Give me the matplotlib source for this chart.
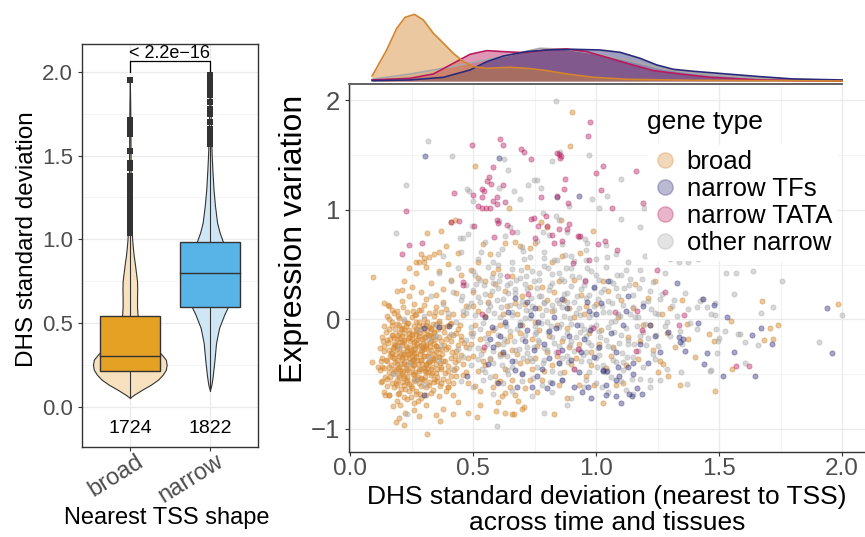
import numpy as np
import matplotlib
matplotlib.use('Agg')
import matplotlib.pyplot as plt
from matplotlib.lines import Line2D
from matplotlib.patches import Rectangle

plt.rcParams['font.family'] = ['Liberation Sans', 'DejaVu Sans']

# ---------------- left panel data ----------------
shapes = ['broad', 'narrow']
counts = [1724, 1822]
box_q1 = [0.215, 0.594]
box_med = [0.300, 0.797]
box_q3 = [0.543, 0.983]
whisk_lo = [0.052, 0.096]
whisk_hi = [1.035, 1.567]
pval_text = '< 2.2e\u221216'

broad_vy = [0.052, 0.07, 0.10, 0.13, 0.16, 0.19, 0.22, 0.25, 0.28, 0.31, 0.35, 0.40, 0.45,
            0.50, 0.55, 0.60, 0.65, 0.70, 0.75, 0.80, 0.85, 0.90, 0.95, 1.00, 1.10, 1.20,
            1.40, 1.60, 1.80, 1.96]
broad_vw = [0.0, 0.05, 0.15, 0.26, 0.35, 0.41, 0.45, 0.46, 0.45, 0.40, 0.32, 0.23, 0.15,
            0.115, 0.096, 0.09, 0.09, 0.092, 0.09, 0.077, 0.064, 0.049, 0.038, 0.029, 0.021,
            0.015, 0.010, 0.008, 0.005, 0.0]
narrow_vy = [0.096, 0.13, 0.18, 0.28, 0.38, 0.47, 0.55, 0.60, 0.70, 0.80, 0.90, 0.98, 1.04,
             1.10, 1.20, 1.30, 1.41, 1.50, 1.61, 1.82, 1.98]
narrow_vw = [0.0, 0.019, 0.035, 0.058, 0.077, 0.115, 0.18, 0.23, 0.28, 0.295, 0.24, 0.167,
             0.122, 0.09, 0.064, 0.045, 0.032, 0.023, 0.015, 0.008, 0.0]

broad_out = [1.951, 1.714, 1.693, 1.663, 1.632, 1.53, 1.458, 1.427, 1.376, 1.345, 1.314,
             1.284, 1.253, 1.222, 1.192, 1.161, 1.13, 1.10, 1.069, 1.04]
narrow_out = [1.98, 1.95, 1.92, 1.89, 1.86, 1.82, 1.78, 1.75, 1.70, 1.66, 1.63, 1.60, 1.57]

# ---------------- marginal densities (relative height) ----------------
dens_x_broad = [0.09, 0.149, 0.19, 0.224, 0.262, 0.298, 0.339, 0.38, 0.42, 0.461, 0.502,
                0.556, 0.65, 0.718, 0.80, 0.881, 0.989, 1.125, 1.396, 2.0]
dens_h_broad = [15, 93, 158, 191, 200, 183, 143, 113, 83, 58, 43, 38, 41, 38, 31, 21, 11, 5, 2, 0]
dens_x_tf = [0.09, 0.244, 0.38, 0.488, 0.556, 0.624, 0.718, 0.80, 0.908, 1.016, 1.098, 1.179,
             1.247, 1.314, 1.396, 1.531, 1.667, 1.802, 2.0]
dens_h_tf = [1, 3, 11, 33, 58, 75, 88, 93, 95, 93, 86, 68, 48, 35, 29, 21, 13, 6, 3]
dens_x_tata = [0.09, 0.244, 0.339, 0.42, 0.488, 0.556, 0.624, 0.705, 0.80, 0.881, 0.962,
               1.043, 1.125, 1.233, 1.342, 1.464, 1.667, 2.0]
dens_h_tata = [3, 8, 21, 53, 80, 91, 88, 85, 93, 96, 88, 71, 53, 31, 21, 11, 3, 0]
dens_x_other = [0.09, 0.244, 0.38, 0.515, 0.65, 0.772, 0.881, 0.989, 1.125, 1.26, 1.396,
                1.599, 1.802, 2.0]
dens_h_other = [5, 21, 38, 58, 78, 98, 95, 83, 63, 38, 23, 11, 5, 2]

# ---------------- scatter points (DHS sd, expression variation) ----------------
broad_pts = [
    (0.16, 0.12), (0.21, 0.17), (0.26, 0.14), (0.31, 0.19), (0.35, 0.11), (0.19, 0.08), (0.29, 0.09),
    (0.24, 0.21), (0.38, 0.16), (0.14, 0.15), (0.15, 0.03), (0.18, 0.06), (0.20, 0.01), (0.23, 0.07),
    (0.25, 0.02), (0.27, 0.05), (0.30, 0.00), (0.32, 0.06), (0.34, 0.03), (0.37, 0.07), (0.40, 0.02),
    (0.22, -0.01), (0.28, 0.09), (0.17, -0.02), (0.36, -0.01), (0.42, 0.05), (0.14, -0.06), (0.16, -0.09),
    (0.19, -0.04), (0.21, -0.08), (0.23, -0.03), (0.24, -0.10), (0.26, -0.06), (0.28, -0.02), (0.29, -0.09),
    (0.31, -0.05), (0.33, -0.08), (0.35, -0.04), (0.38, -0.07), (0.41, -0.03), (0.44, -0.09), (0.20, -0.12),
    (0.27, -0.13), (0.34, -0.12), (0.13, -0.16), (0.15, -0.19), (0.17, -0.14), (0.19, -0.18), (0.21, -0.15),
    (0.22, -0.20), (0.24, -0.16), (0.25, -0.13), (0.27, -0.19), (0.28, -0.15), (0.30, -0.17), (0.32, -0.14),
    (0.33, -0.20), (0.36, -0.16), (0.39, -0.18), (0.42, -0.14), (0.45, -0.19), (0.18, -0.22), (0.26, -0.23),
    (0.31, -0.22), (0.12, -0.26), (0.14, -0.24), (0.16, -0.28), (0.18, -0.25), (0.20, -0.27), (0.21, -0.23),
    (0.23, -0.29), (0.24, -0.25), (0.26, -0.27), (0.28, -0.24), (0.29, -0.29), (0.31, -0.26), (0.33, -0.28),
    (0.35, -0.24), (0.37, -0.27), (0.40, -0.25), (0.43, -0.29), (0.17, -0.31), (0.22, -0.32), (0.27, -0.31),
    (0.34, -0.32), (0.13, -0.35), (0.15, -0.38), (0.17, -0.34), (0.19, -0.37), (0.20, -0.33), (0.22, -0.39),
    (0.24, -0.35), (0.25, -0.38), (0.27, -0.34), (0.29, -0.37), (0.30, -0.33), (0.32, -0.39), (0.34, -0.36),
    (0.36, -0.34), (0.38, -0.38), (0.41, -0.35), (0.44, -0.37), (0.19, -0.41), (0.26, -0.42), (0.31, -0.41),
    (0.12, -0.46), (0.14, -0.44), (0.16, -0.48), (0.18, -0.45), (0.20, -0.43), (0.21, -0.49), (0.23, -0.46),
    (0.25, -0.44), (0.26, -0.50), (0.28, -0.47), (0.30, -0.44), (0.31, -0.48), (0.33, -0.45), (0.35, -0.49),
    (0.37, -0.43), (0.40, -0.47), (0.43, -0.44), (0.22, -0.52), (0.29, -0.53), (0.13, -0.56), (0.15, -0.54),
    (0.17, -0.58), (0.19, -0.55), (0.21, -0.57), (0.23, -0.55), (0.24, -0.59), (0.26, -0.56), (0.28, -0.58),
    (0.30, -0.55), (0.32, -0.57), (0.34, -0.54), (0.37, -0.58), (0.40, -0.56), (0.18, -0.62), (0.25, -0.63),
    (0.31, -0.62), (0.14, -0.66), (0.16, -0.69), (0.20, -0.67), (0.22, -0.71), (0.24, -0.65), (0.27, -0.68),
    (0.29, -0.72), (0.33, -0.67), (0.36, -0.70), (0.39, -0.65), (0.19, -0.74), (0.26, -0.76), (0.31, -0.78),
    (0.42, -0.69), (0.21, -0.21), (0.23, -0.42), (0.27, -0.09), (0.18, -0.35), (0.29, -0.45), (0.25, -0.30),
    (0.20, -0.05), (0.32, -0.31), (0.22, -0.60), (0.16, 0.00), (0.26, -0.36), (0.30, -0.12),
    # second pass over the dense blob
    (0.155, -0.215), (0.172, -0.052), (0.188, -0.318), (0.205, -0.462), (0.218, -0.128), (0.232, -0.574),
    (0.247, -0.281), (0.263, 0.043), (0.276, -0.407), (0.291, -0.183), (0.305, -0.521), (0.322, -0.067),
    (0.338, -0.356), (0.351, -0.238), (0.367, -0.612), (0.384, -0.115), (0.397, -0.429), (0.412, -0.198),
    (0.428, -0.334), (0.145, -0.372), (0.163, -0.521), (0.178, -0.168), (0.194, 0.027), (0.211, -0.346),
    (0.226, -0.238), (0.239, -0.482), (0.254, -0.139), (0.268, -0.655), (0.284, -0.317), (0.298, -0.052),
    (0.313, -0.443), (0.327, -0.209), (0.343, -0.567), (0.358, -0.091), (0.372, -0.318), (0.388, -0.492),
    (0.403, -0.147), (0.419, -0.583), (0.138, -0.291), (0.151, -0.612), (0.167, -0.418), (0.183, -0.087),
    (0.199, -0.527), (0.214, -0.296), (0.229, -0.061), (0.244, -0.389), (0.259, -0.542), (0.273, -0.226),
    (0.288, -0.611), (0.302, -0.331), (0.318, -0.143), (0.333, -0.488), (0.348, -0.406), (0.362, -0.033),
    (0.377, -0.541), (0.392, -0.271), (0.408, -0.043), (0.423, -0.462), (0.437, -0.231), (0.147, -0.112),
    (0.161, -0.331), (0.176, -0.487), (0.192, -0.229), (0.207, -0.631), (0.221, -0.407), (0.236, -0.172),
    (0.251, -0.334), (0.266, -0.478), (0.281, -0.063), (0.295, -0.254), (0.309, -0.688), (0.325, -0.382),
    (0.339, -0.158), (0.355, -0.452), (0.369, -0.196), (0.385, -0.381), (0.399, -0.621), (0.414, -0.296),
    (0.432, -0.128), (0.141, -0.525), (0.158, -0.438), (0.174, -0.262), (0.190, -0.598), (0.203, -0.165),
    (0.219, -0.532), (0.234, -0.312), (0.249, -0.711), (0.262, -0.203), (0.278, -0.523), (0.292, -0.408),
    (0.307, -0.239), (0.321, -0.598), (0.336, -0.041), (0.352, -0.528), (0.366, -0.402), (0.381, -0.231),
    (0.396, -0.062), (0.411, -0.512), (0.426, -0.388), (0.170, 0.090), (0.215, 0.112), (0.258, 0.081),
    (0.302, 0.128), (0.345, 0.064), (0.390, 0.095), (0.232, -0.723), (0.275, -0.742), (0.196, -0.682),
    (0.339, -0.642), (0.128, -0.382), (0.135, -0.198), (0.452, -0.322), (0.448, -0.052), (0.458, -0.507),
    (0.463, -0.213),
    # third pass over the core
    (0.176, -0.143), (0.183, -0.392), (0.191, -0.271), (0.198, -0.508), (0.206, -0.087), (0.213, -0.358),
    (0.221, -0.191), (0.228, -0.447), (0.236, -0.032), (0.243, -0.302), (0.251, -0.176), (0.258, -0.415),
    (0.266, -0.259), (0.273, -0.541), (0.281, -0.128), (0.288, -0.372), (0.296, -0.214), (0.303, -0.468),
    (0.311, -0.093), (0.318, -0.331), (0.326, -0.252), (0.333, -0.433), (0.341, -0.117), (0.348, -0.297),
    (0.184, -0.232), (0.195, -0.452), (0.207, -0.318), (0.219, -0.084), (0.231, -0.527), (0.242, -0.201),
    (0.255, -0.367), (0.267, -0.104), (0.279, -0.452), (0.291, -0.282), (0.304, -0.163), (0.316, -0.392),
    (0.328, -0.511), (0.340, -0.226), (0.186, -0.577), (0.201, -0.203), (0.216, -0.472), (0.232, -0.265),
    (0.247, -0.612), (0.262, -0.318), (0.277, -0.182), (0.293, -0.546), (0.308, -0.412), (0.324, -0.148),
    (0.339, -0.371), (0.354, -0.562), (0.168, -0.308), (0.181, -0.472), (0.225, -0.637), (0.269, -0.022),
    (0.286, -0.681), (0.312, -0.021), (0.357, -0.271), (0.371, -0.452), (0.161, -0.178), (0.209, -0.405),
    (0.239, -0.127), (0.271, -0.372), (0.301, -0.271), (0.331, -0.087), (0.361, -0.343), (0.197, -0.146),
    (0.227, -0.342), (0.257, -0.501), (0.287, -0.232), (0.317, -0.481), (0.347, -0.183),
    # edges of the blob
    (0.09, -0.385), (0.092, 0.39), (0.187, -0.94), (0.221, -0.96), (0.314, -1.05), (0.224, -0.85),
    (0.203, -0.78), (0.173, -0.79), (0.142, -0.69), (0.16, -0.69), (0.125, -0.57), (0.115, -0.43),
    (0.132, -0.43), (0.156, 0.13), (0.19, 0.26), (0.20, -0.90), (0.35, -0.87), (0.28, -0.88),
    (0.38, -0.82), (0.26, -0.83), (0.366, -0.93), (0.42, -0.86),
    # above the blob
    (0.22, 0.35), (0.25, 0.30), (0.27, 0.42), (0.29, 0.25), (0.31, 0.48), (0.33, 0.33), (0.35, 0.22),
    (0.36, 0.44), (0.38, 0.28), (0.40, 0.51), (0.41, 0.36), (0.43, 0.24), (0.45, 0.41), (0.24, 0.47),
    (0.21, 0.27), (0.30, 0.56), (0.34, 0.60), (0.44, 0.61), (0.39, 0.67), (0.28, 0.52), (0.313, 0.785),
    (0.369, 0.81), (0.29, 0.60), (0.30, 0.525), (0.27, 0.52), (0.321, 0.57), (0.363, 0.615), (0.427, 0.91),
    (0.41, 0.89), (0.541, 0.69), (0.631, 0.70), (0.733, 0.65), (0.75, 0.70), (0.776, 0.89), (0.858, 0.91),
    (0.986, 0.807), (0.936, 0.61), (0.86, 0.58), (0.80, 0.84), (0.67, 0.71), (0.69, 0.67), (0.645, 1.02),
    (0.507, 1.40), (0.901, 1.89), (0.893, 1.58),
    # spread towards narrow region
    (0.40, -0.62), (0.43, -0.52), (0.46, -0.41), (0.48, -0.58), (0.47, -0.25), (0.49, -0.12), (0.46, 0.04),
    (0.50, -0.33), (0.52, -0.47), (0.53, -0.18), (0.55, 0.03), (0.57, -0.36), (0.58, -0.62), (0.60, -0.22),
    (0.61, -0.05), (0.63, -0.45), (0.64, 0.12), (0.66, -0.28), (0.67, -0.69), (0.69, -0.12), (0.70, 0.21),
    (0.72, -0.38), (0.73, -0.55), (0.75, -0.02), (0.76, -0.24), (0.78, 0.30), (0.79, -0.47), (0.81, -0.15),
    (0.82, 0.08), (0.84, -0.33), (0.85, -0.60), (0.87, 0.18), (0.88, -0.08), (0.90, -0.41), (0.91, 0.36),
    (0.93, -0.22), (0.95, 0.05), (0.96, -0.52), (0.98, -0.30), (1.00, 0.14), (1.02, -0.10), (1.04, -0.44),
    (1.05, 0.26), (1.07, -0.25), (1.09, 0.02), (1.11, -0.58), (1.13, -0.16), (1.15, 0.10), (1.17, -0.36),
    (1.19, -0.05), (1.21, 0.20), (1.23, -0.28), (1.25, -0.48), (1.27, 0.05), (1.29, -0.12),
    (0.45, -0.15), (0.47, 0.12), (0.50, 0.25), (0.51, -0.05), (0.52, 0.38), (0.54, -0.28), (0.56, 0.16),
    (0.58, -0.10), (0.59, 0.32), (0.62, -0.32), (0.63, 0.26), (0.65, -0.15), (0.68, 0.05), (0.69, -0.40),
    (0.71, 0.14), (0.74, -0.18), (0.77, 0.10), (0.80, -0.30), (0.83, 0.25), (0.86, -0.20), (0.89, 0.10),
    (0.92, -0.35), (0.94, 0.22), (0.97, -0.12), (0.99, -0.60), (0.53, -0.65), (0.60, -0.75), (0.70, -0.82),
    (0.44, -0.75), (0.48, -0.85), (0.66, -0.55), (0.76, -0.66), (0.88, -0.72), (0.52, 0.52), (0.60, 0.46),
    (0.66, 0.40), (0.72, 0.48), (0.82, 0.52), (0.55, -0.42), (0.61, -0.56), (0.74, -0.45), (0.49, 0.45),
    (0.57, 0.60), (0.518, -0.89), (0.594, -0.84), (0.657, -0.86), (0.667, -0.86), (0.709, -0.80),
    (0.831, -0.86), (0.684, -0.74), (0.63, -0.67), (0.617, -0.70), (0.596, -0.57),
    (0.47, -0.48), (0.49, -0.22), (0.51, -0.61), (0.52, 0.08), (0.54, -0.38), (0.56, -0.12), (0.57, 0.22),
    (0.59, -0.52), (0.61, -0.32), (0.62, 0.05), (0.64, -0.20), (0.65, -0.62), (0.67, 0.15), (0.68, -0.32),
    (0.70, -0.05), (0.71, -0.63), (0.73, 0.30), (0.75, -0.35), (0.77, -0.10), (0.78, -0.55), (0.80, 0.18),
    (0.82, -0.42), (0.84, -0.05), (0.85, 0.35), (0.87, -0.48), (0.89, -0.25), (0.91, 0.02), (0.93, -0.60),
    (0.96, 0.12), (0.98, -0.42), (0.50, 0.12), (0.55, 0.35), (0.48, -0.35), (0.53, -0.78), (0.58, 0.42),
    (0.63, -0.85),
    (1.03, 0.35), (1.06, -0.33), (1.10, 0.18), (1.12, -0.42), (1.16, 0.32), (1.18, -0.20), (1.22, -0.05),
    (1.24, 0.35), (1.26, -0.38), (1.30, 0.10), (1.32, -0.25), (1.01, -0.22), (1.08, -0.60),
    # far right
    (1.673, 0.166), (1.706, -0.074), (1.739, -0.05), (1.718, -0.18), (1.683, -0.19), (1.547, -0.014),
    (1.553, -0.45), (1.481, -0.20), (1.459, -0.137), (1.482, -0.65), (1.351, 0.178), (1.369, -0.04),
    (1.373, -0.18), (1.401, -0.345), (1.341, -0.60), (1.294, -0.52), (1.274, -0.41), (1.984, 0.142),
    (1.03, -0.763),
]

other_pts = [
    (0.38, 0.58), (0.45, 0.62), (0.52, 0.55), (0.55, 0.71), (0.60, 0.60), (0.63, 0.76), (0.66, 0.52),
    (0.70, 0.66), (0.73, 0.57), (0.76, 0.72), (0.79, 0.62), (0.83, 0.54), (0.86, 0.69), (0.90, 0.58),
    (0.93, 0.75), (0.96, 0.63), (1.00, 0.55), (1.04, 0.68), (1.08, 0.60), (1.13, 0.52), (0.48, 0.78),
    (0.68, 0.80), (0.88, 0.80), (1.20, 0.58), (0.58, 0.52), (0.81, 0.77),
    (0.36, 0.42), (0.41, 0.35), (0.44, 0.47), (0.47, 0.31), (0.50, 0.44), (0.53, 0.36), (0.56, 0.48),
    (0.58, 0.33), (0.61, 0.41), (0.64, 0.31), (0.66, 0.46), (0.69, 0.38), (0.71, 0.32), (0.74, 0.44),
    (0.77, 0.36), (0.79, 0.49), (0.82, 0.33), (0.85, 0.42), (0.87, 0.35), (0.90, 0.47), (0.93, 0.39),
    (0.95, 0.31), (0.98, 0.44), (1.01, 0.36), (1.04, 0.48), (1.07, 0.33), (1.10, 0.41), (1.14, 0.37),
    (1.18, 0.45), (1.23, 0.34), (1.28, 0.42),
    (0.33, 0.21), (0.38, 0.14), (0.42, 0.25), (0.45, 0.18), (0.48, 0.11), (0.50, 0.27), (0.53, 0.16),
    (0.55, 0.23), (0.57, 0.12), (0.60, 0.29), (0.62, 0.19), (0.65, 0.13), (0.67, 0.24), (0.70, 0.17),
    (0.72, 0.28), (0.74, 0.12), (0.77, 0.21), (0.79, 0.15), (0.81, 0.27), (0.84, 0.18), (0.86, 0.11),
    (0.88, 0.24), (0.91, 0.16), (0.94, 0.28), (0.96, 0.20), (0.99, 0.12), (1.02, 0.25), (1.05, 0.17),
    (1.08, 0.29), (1.11, 0.13), (1.15, 0.22), (1.19, 0.15), (1.22, 0.26), (1.26, 0.19), (1.31, 0.12),
    (1.36, 0.24),
    (0.30, 0.03), (0.35, -0.05), (0.40, 0.06), (0.43, -0.02), (0.46, 0.08), (0.49, -0.07), (0.51, 0.04),
    (0.54, -0.03), (0.56, 0.09), (0.59, -0.08), (0.61, 0.02), (0.63, -0.04), (0.66, 0.07), (0.68, -0.09),
    (0.71, 0.01), (0.73, 0.08), (0.75, -0.06), (0.78, 0.04), (0.80, -0.02), (0.83, 0.09), (0.85, -0.07),
    (0.87, 0.03), (0.90, -0.04), (0.92, 0.06), (0.95, -0.09), (0.97, 0.02), (1.00, -0.05), (1.03, 0.07),
    (1.06, -0.02), (1.09, 0.05), (1.12, -0.08), (1.16, 0.02), (1.20, -0.04), (1.24, 0.06), (1.28, -0.06),
    (1.33, 0.03), (1.38, -0.03),
    (0.32, -0.18), (0.37, -0.24), (0.41, -0.13), (0.44, -0.27), (0.47, -0.19), (0.50, -0.12), (0.52, -0.26),
    (0.55, -0.17), (0.58, -0.29), (0.60, -0.14), (0.62, -0.22), (0.65, -0.11), (0.67, -0.28), (0.70, -0.18),
    (0.72, -0.25), (0.75, -0.13), (0.77, -0.21), (0.80, -0.28), (0.82, -0.16), (0.85, -0.24), (0.88, -0.12),
    (0.90, -0.20), (0.93, -0.27), (0.96, -0.15), (0.98, -0.23), (1.01, -0.11), (1.04, -0.19), (1.07, -0.26),
    (1.10, -0.14), (1.13, -0.22), (1.17, -0.29), (1.21, -0.17), (1.25, -0.24), (1.30, -0.15), (1.35, -0.22),
    (0.36, -0.38), (0.42, -0.45), (0.46, -0.34), (0.49, -0.42), (0.52, -0.36), (0.55, -0.48), (0.58, -0.40),
    (0.61, -0.33), (0.64, -0.46), (0.67, -0.38), (0.70, -0.49), (0.73, -0.35), (0.76, -0.43), (0.79, -0.37),
    (0.82, -0.47), (0.85, -0.40), (0.88, -0.33), (0.91, -0.45), (0.94, -0.38), (0.97, -0.48), (1.00, -0.35),
    (1.03, -0.42), (1.07, -0.37), (1.11, -0.46), (1.15, -0.34), (1.19, -0.43), (1.24, -0.36), (1.29, -0.45),
    (0.45, -0.56), (0.50, -0.62), (0.54, -0.55), (0.58, -0.68), (0.62, -0.58), (0.66, -0.65), (0.70, -0.56),
    (0.74, -0.70), (0.78, -0.60), (0.82, -0.66), (0.86, -0.55), (0.90, -0.72), (0.95, -0.62), (1.00, -0.58),
    (1.05, -0.66), (1.10, -0.56), (1.15, -0.68), (0.88, -0.78), (0.596, -0.97), (0.79, -0.85), (1.22, -0.55),
    (1.145, -0.54), (1.122, -0.644),
    (0.20, -0.25), (0.24, -0.40), (0.28, -0.10), (0.32, -0.35), (0.18, -0.50), (0.30, -0.60), (0.35, -0.15),
    (0.22, 0.00), (0.27, -0.55), (0.23, -0.86),
    # second pass over the dense cloud
    (0.455, 0.215), (0.482, -0.262), (0.508, 0.402), (0.527, -0.084), (0.546, 0.318), (0.571, -0.352),
    (0.587, 0.057), (0.603, 0.498), (0.624, -0.177), (0.641, 0.243), (0.659, -0.436), (0.676, 0.362),
    (0.692, -0.023), (0.708, 0.551), (0.721, -0.302), (0.737, 0.197), (0.754, -0.118), (0.768, 0.426),
    (0.783, -0.401), (0.797, 0.083), (0.812, 0.308), (0.828, -0.211), (0.842, 0.547), (0.857, -0.044),
    (0.871, 0.232), (0.886, -0.387), (0.902, 0.393), (0.917, -0.157), (0.931, 0.107), (0.947, -0.326),
    (0.962, 0.468), (0.978, -0.068), (0.993, 0.283), (1.008, -0.262), (1.024, 0.121), (1.039, -0.482),
    (1.055, 0.353), (1.071, -0.118), (1.088, 0.212), (1.104, -0.303), (1.121, 0.452), (1.138, 0.054),
    (1.156, -0.228), (1.174, 0.284), (1.192, -0.112), (1.211, 0.168), (1.233, -0.312), (1.251, 0.047),
    (0.472, 0.058), (0.497, -0.148), (0.521, 0.203), (0.538, -0.448), (0.561, 0.148), (0.579, 0.389),
    (0.596, -0.228), (0.614, 0.118), (0.633, -0.062), (0.651, 0.334), (0.668, -0.194), (0.685, 0.126),
    (0.702, -0.352), (0.716, 0.398), (0.731, 0.017), (0.746, -0.251), (0.761, 0.289), (0.776, -0.032),
    (0.790, 0.158), (0.806, -0.118), (0.821, 0.418), (0.836, -0.301), (0.851, 0.154), (0.866, -0.171),
    (0.879, 0.468), (0.894, 0.012), (0.909, -0.286), (0.924, 0.217), (0.939, -0.052), (0.954, 0.361),
    (0.969, -0.205), (0.985, 0.052), (1.000, 0.402), (1.016, -0.163), (1.032, 0.278), (1.048, -0.071),
    (1.064, 0.149), (1.081, -0.384), (1.097, 0.031), (1.114, 0.287), (1.131, -0.186), (1.149, 0.113),
    (1.167, -0.061), (1.185, 0.372), (1.204, -0.231), (1.224, 0.098), (1.245, -0.142), (1.268, 0.231),
    (1.290, -0.021), (1.315, 0.178), (1.342, -0.108), (1.372, 0.092), (0.534, 0.612), (0.618, 0.643),
    (0.702, 0.621), (0.788, 0.562), (0.874, 0.587), (0.961, 0.544), (1.046, 0.571), (0.641, -0.502),
    (0.745, -0.532), (0.852, -0.491), (0.958, -0.552), (1.062, -0.522),
    # third pass over the dense cloud
    (0.512, 0.321), (0.556, -0.221), (0.598, 0.174), (0.637, -0.338), (0.672, 0.281), (0.711, -0.143),
    (0.748, 0.352), (0.787, -0.262), (0.823, 0.136), (0.861, -0.352), (0.898, 0.302), (0.936, -0.113),
    (0.973, 0.223), (1.012, -0.327), (1.051, 0.067), (1.093, -0.212), (1.135, 0.318), (1.178, -0.152),
    (0.533, -0.312), (0.577, 0.262), (0.619, -0.412), (0.658, 0.044), (0.697, 0.452), (0.739, -0.381),
    (0.777, 0.212), (0.817, -0.063), (0.856, 0.372), (0.894, -0.232), (0.933, 0.038), (0.971, -0.382),
    (1.009, 0.187), (1.047, -0.241), (1.086, 0.404), (1.127, -0.342), (1.171, 0.026), (0.492, 0.152),
    (0.688, -0.272), (0.882, 0.162), (1.076, -0.017), (0.764, -0.186), (0.958, -0.298), (0.605, 0.352),
    (0.803, 0.472), (1.002, -0.432), (0.716, 0.082), (0.912, 0.532), (1.111, -0.392), (0.567, -0.523),
    (0.813, -0.572), (1.023, -0.621),
    # sparse outer points
    (0.836, 1.99), (0.318, 1.63), (0.227, 1.23), (0.186, 0.79), (0.416, 1.49), (0.627, 1.46), (0.642, 1.36),
    (0.749, 1.274), (0.759, 1.274), (0.725, 1.23), (0.776, 1.20), (0.823, 1.45), (0.853, 1.53), (0.973, 1.50),
    (0.605, 1.20), (0.667, 1.17), (0.69, 1.10), (0.474, 1.19), (0.484, 1.17), (0.50, 1.085), (0.605, 0.90),
    (0.652, 0.84), (0.783, 0.97), (0.836, 0.94), (0.848, 0.91), (0.785, 0.80), (0.891, 1.04), (0.984, 1.10),
    (0.954, 0.73), (0.963, 0.70), (0.494, 0.855), (0.447, 0.74), (0.46, 0.74), (1.103, 1.28),
    (1.045, 1.13), (1.012, 1.02), (1.193, 1.02), (1.10, 0.913), (1.179, 0.846), (1.253, 0.63), (1.30, 0.55),
    (1.337, 0.527), (1.375, 0.527), (1.416, 0.55), (1.439, 0.59), (1.527, 0.42), (1.568, 0.42),
    (1.637, 0.44), (1.755, 0.35), (2.0, 0.04), (1.908, -0.21), (1.585, -0.13), (1.561, 0.233),
    (1.719, 0.114), (1.671, 0.055), (1.659, -0.236), (1.604, -0.208), (1.577, -0.13), (1.526, -0.108),
    (1.50, -0.169), (1.605, -0.395), (1.482, 0.153), (1.485, 0.044), (1.469, 0.048), (1.486, -0.09),
    (1.497, -0.20), (1.466, -0.46), (1.493, -0.31), (1.449, 0.117), (1.43, 0.19), (1.423, 0.166),
    (1.41, 0.118), (1.41, -0.09), (1.346, -0.48), (1.368, -0.59), (1.465, -0.47), (1.26, -0.55),
    (1.22, -0.613), (1.18, -0.54),
]

tf_pts = [
    (0.306, 1.49), (0.604, 1.47), (0.93, 1.13), (0.84, 1.12), (1.94, 0.105), (1.957, -0.31),
    (1.669, -0.074), (1.635, -0.144), (1.715, -0.22), (1.531, 0.02), (1.559, -0.294), (1.515, -0.52),
    (1.646, -0.52), (1.481, 0.132), (1.436, 0.183), (1.413, -0.03), (1.45, -0.31), (1.44, -0.41),
    (1.328, 0.33), (1.355, -0.18), (1.363, -0.29), (1.341, -0.21), (1.339, -0.16), (1.293, -0.117),
    (1.10, -0.763), (1.08, -0.695), (1.039, -0.692), (1.188, -0.68), (1.148, -0.695), (1.134, -0.68),
    (1.167, -0.625), (1.081, -0.55), (1.091, -0.43), (1.131, -0.433), (1.152, -0.394), (1.092, -0.513),
    (1.043, -0.47), (1.029, -0.47),
    (0.404, -0.056), (0.302, -0.08), (0.302, -0.69), (0.363, -0.07), (0.474, -0.52), (0.559, -0.41),
    (0.578, -0.07), (0.608, -0.15), (0.643, 0.07), (0.67, -0.46), (0.69, -0.05), (0.718, 0.16),
    (0.736, 0.04), (0.747, -0.28), (0.766, -0.02), (0.80, -0.63), (0.809, -0.11), (0.836, -0.08),
    (0.86, -0.55), (0.863, 0.19), (0.897, -0.37), (0.924, -0.05), (0.942, -0.66), (0.966, -0.62),
    (0.962, 0.16), (0.993, -0.34), (1.03, -0.46), (0.976, -0.10),
    (0.55, 0.02), (0.62, -0.30), (0.71, -0.20), (0.78, -0.45), (0.86, -0.28), (0.95, -0.18), (1.00, 0.05),
    (1.06, -0.12), (1.12, 0.08), (1.18, -0.22), (1.22, -0.05), (1.26, -0.30), (0.88, 0.10), (0.82, -0.58),
    (0.74, -0.62), (0.99, 0.30), (1.13, 0.21), (0.70, -0.50), (0.93, -0.48), (1.05, 0.35), (0.67, 0.20),
    (0.58, -0.25),
    (0.57, -0.18), (0.63, -0.02), (0.66, -0.38), (0.72, -0.10), (0.76, -0.52), (0.79, -0.22), (0.83, 0.02),
    (0.85, -0.40), (0.89, -0.15), (0.91, -0.62), (0.94, -0.30), (0.97, 0.08), (1.01, -0.25), (1.04, -0.60),
    (1.08, -0.30), (1.11, -0.05), (1.15, -0.50), (1.19, 0.12), (1.21, -0.40), (1.24, -0.15), (0.68, -0.62),
    (0.81, -0.35), (0.98, -0.72), (1.02, 0.15), (0.60, -0.58), (0.75, 0.10),
]

tata_pts = [
    (0.226, 0.994), (0.241, 0.68), (0.213, 0.60), (0.293, 0.70), (0.424, 1.155), (0.41, 0.893),
    (0.442, 0.90), (0.497, 1.594), (0.608, 1.65), (0.62, 1.594), (0.583, 1.39), (0.565, 1.304),
    (0.555, 1.267), (0.572, 1.237), (0.535, 1.189), (0.543, 1.17), (0.535, 1.116), (0.499, 1.14),
    (0.522, 1.036), (0.535, 1.02), (0.553, 1.02), (0.569, 1.02), (0.581, 1.08), (0.597, 1.05),
    (0.599, 1.12), (0.62, 1.23), (0.631, 1.07), (0.596, 0.909), (0.60, 0.88), (0.504, 0.85),
    (0.587, 0.756), (0.638, 0.86), (0.659, 0.80), (0.695, 1.557), (0.707, 1.524), (0.734, 1.466),
    (0.775, 1.116), (0.735, 0.917), (0.749, 0.93), (0.795, 0.945), (0.752, 0.747), (0.763, 0.85),
    (0.80, 0.85), (0.848, 0.824), (0.829, 0.695), (0.823, 0.77), (0.842, 1.52), (0.85, 1.51),
    (0.858, 1.49), (0.852, 1.47), (0.874, 1.28), (0.868, 1.19), (0.84, 1.125), (0.885, 1.06),
    (0.89, 0.87), (0.882, 0.83), (0.862, 0.72), (0.928, 0.765), (0.977, 1.80), (0.966, 1.67),
    (1.00, 1.334), (1.02, 1.18), (1.027, 1.40), (1.007, 0.69), (0.973, 0.54), (0.906, 0.513),
    (1.164, 1.357), (1.192, 1.06), (1.063, 1.02), (1.035, 0.714), (1.085, 0.634), (0.933, 0.765),
    (0.46, 0.34), (0.46, 0.31), (0.538, 0.05), (0.546, -0.25), (0.847, -0.30), (0.91, -0.45),
    (0.925, -0.27), (0.955, 0.35), (0.989, -0.08), (0.725, 0.23), (0.64, 0.40), (1.569, -0.425),
    (1.62, -0.425), (1.356, 0.037), (1.337, -0.05), (1.247, 0.45), (1.28, 0.25), (1.161, -0.29),
    (1.168, 0.08), (1.077, 0.07), (1.188, -0.10),
]

gene_types = ['broad', 'narrow TFs', 'narrow TATA', 'other narrow']
type_colors = {'broad': '#D4862E', 'narrow TFs': '#2B2A78',
               'narrow TATA': '#B8195E', 'other narrow': '#A8A8A8'}
type_alpha = {'broad': 0.47, 'narrow TFs': 0.42, 'narrow TATA': 0.42, 'other narrow': 0.45}

W, H = 865, 537
fig = plt.figure(figsize=(W / 100, H / 100), dpi=100)
ink = '#333333'
tick_grey = '#4D4D4D'
grid_col = '#EBEBEB'

# ================= left panel: violin + box =================
L_left, L_right, L_top, L_bot = 82.2, 257.9, 43.5, 446.9
ax1 = fig.add_axes([L_left / W, 1 - L_bot / H, (L_right - L_left) / W, (L_bot - L_top) / H])
ax1.set_xlim(0.405, 2.6)
ax1.set_ylim(-0.241, 2.17)
ax1.set_yticks([0, 0.5, 1.0, 1.5, 2.0])
ax1.set_yticks([0.25, 0.75, 1.25, 1.75], minor=True)
ax1.set_yticklabels(['0.0', '0.5', '1.0', '1.5', '2.0'])
ax1.set_xticks([1, 2])
ax1.set_xticklabels([])
ax1.grid(True, which='major', color=grid_col, lw=1.0, zorder=0)
ax1.grid(True, which='minor', axis='y', color='#F3F3F3', lw=0.6, zorder=0)
ax1.set_axisbelow(True)

violins = [(broad_vy, broad_vw, '#F8E1BE'), (narrow_vy, narrow_vw, '#CFE6F5')]
box_cols = ['#E5A124', '#58B4E7']
outs = [broad_out, narrow_out]
for i, (vy, vw, vc) in enumerate(violins):
    pos = i + 1
    vy = np.array(vy)
    vw = np.array(vw)
    ax1.fill_betweenx(vy, pos - vw, pos + vw, facecolor=vc, edgecolor=ink, lw=0.8, zorder=2)
    ax1.plot([pos, pos], [box_q3[i], whisk_hi[i]], color=ink, lw=0.8, zorder=3)
    ax1.plot([pos, pos], [whisk_lo[i], box_q1[i]], color=ink, lw=0.8, zorder=3)
    ax1.add_patch(Rectangle((pos - 0.375, box_q1[i]), 0.75, box_q3[i] - box_q1[i],
                            facecolor=box_cols[i], edgecolor=ink, lw=1.0, zorder=4))
    ax1.plot([pos - 0.375, pos + 0.375], [box_med[i], box_med[i]], color=ink, lw=1.0, zorder=5)
    ax1.plot([pos] * len(outs[i]), outs[i], 's', color=ink, ms=4.9, mew=0, zorder=5)
    ax1.text(pos, -0.13, str(counts[i]), ha='center', va='center', fontsize=14, color='black')
    # rotated category label
    ax1.text(pos + 0.07, -0.008, shapes[i], rotation=32, rotation_mode='anchor', ha='right',
             va='top', fontsize=17, color=tick_grey, transform=ax1.get_xaxis_transform())

ax1.plot([1, 1, 2, 2], [2.0, 2.064, 2.064, 2.0], color='black', lw=0.9)
ax1.text(1.5, 2.083, pval_text, ha='center', va='baseline', fontsize=13, color='black')

ax1.tick_params(axis='y', labelsize=16, labelcolor=tick_grey, colors=ink, length=3, width=0.8)
ax1.tick_params(axis='x', colors=ink, length=3, width=0.8)
ax1.tick_params(which='minor', length=0)
for sp in ax1.spines.values():
    sp.set_color(ink)
    sp.set_linewidth(1.0)
ax1.set_ylabel('DHS standard deviation', fontsize=17.5, color='black')
ax1.yaxis.set_label_coords(-0.253, 0.516)
ax1.set_xlabel('Nearest TSS shape', fontsize=17, color='black')
ax1.xaxis.set_label_coords(0.48, -0.149)
ax1.xaxis.label.set_va('top')

# ================= right panel: scatter =================
ax2 = fig.add_axes([349 / W, 1 - 452 / H, (W - 349) / W, (452 - 85) / H])
ax2.set_xlim(-0.004, 2.093)
ax2.set_ylim(-1.21, 2.14)
ax2.set_xticks([0, 0.5, 1.0, 1.5, 2.0])
ax2.set_xticks([0.25, 0.75, 1.25, 1.75], minor=True)
ax2.set_yticks([-1, 0, 1, 2])
ax2.set_yticks([-0.5, 0.5, 1.5], minor=True)
ax2.set_xticklabels(['0.0', '0.5', '1.0', '1.5', '2.0'])
ax2.set_yticklabels(['\u22121', '0', '1', '2'])
ax2.grid(True, which='major', color=grid_col, lw=1.0)
ax2.grid(True, which='minor', color='#F3F3F3', lw=0.7)
ax2.set_axisbelow(True)

point_sets = [('broad', broad_pts), ('other narrow', other_pts),
              ('narrow TFs', tf_pts), ('narrow TATA', tata_pts)]
for name, pts in point_sets:
    p = np.array(pts)
    ax2.scatter(p[:, 0], p[:, 1], s=14, color=type_colors[name], alpha=type_alpha[name],
                edgecolors=type_colors[name], linewidths=0.6, zorder=3)

ax2.spines['top'].set_visible(False)
ax2.spines['right'].set_visible(False)
for s in ['left', 'bottom']:
    ax2.spines[s].set_color(ink)
    ax2.spines[s].set_linewidth(1.0)
ax2.tick_params(axis='x', labelsize=17.5, labelcolor=tick_grey, colors=ink, length=3, width=0.8, pad=1.5)
ax2.tick_params(axis='y', labelsize=18.5, labelcolor=tick_grey, colors=ink, length=3, width=0.8)
ax2.tick_params(which='minor', length=0)
ax2.set_xlabel('DHS standard deviation (nearest to TSS)\nacross time and tissues',
               fontsize=19, color='black', linespacing=1.09)
ax2.xaxis.set_label_coords(0.5, -0.0905, transform=ax2.transAxes)
ax2.xaxis.label.set_va('top')
ax2.set_ylabel('Expression variation', fontsize=23, color='black')
ax2.yaxis.set_label_coords(-0.078, 0.58)

# legend
handles = [Line2D([], [], ls='', marker='o', ms=11, mfc=type_colors[g], mec=type_colors[g],
                  alpha=0.32, mew=1.0) for g in gene_types]
leg = ax2.legend(handles, gene_types, loc='upper left',
                 bbox_to_anchor=(647 / W, 1 - 145 / H), bbox_transform=fig.transFigure,
                 frameon=True, facecolor='white', edgecolor='none', framealpha=1.0,
                 fontsize=18.5, handlelength=1.0, handletextpad=0.35, labelspacing=0.12,
                 borderpad=0.2, borderaxespad=0.0)
leg.set_zorder(10)
fig.text(647 / W, 1 - 122 / H, 'gene type', fontsize=19, ha='left', va='center', color='black')

# ================= top marginal densities =================
ax3 = fig.add_axes([349 / W, 1 - 84.3 / H, (W - 349) / W, 84.3 / H])
ax3.set_xlim(-0.004, 2.093)
ax3.set_ylim(-10, 243)
ax3.set_xticks([])
ax3.set_yticks([])
for s in ['top', 'right', 'left']:
    ax3.spines[s].set_visible(False)
ax3.spines['bottom'].set_color('#555555')
ax3.spines['bottom'].set_linewidth(1.3)
ax3.spines['bottom'].set_bounds(-0.004, 2.0)
ax3.patch.set_alpha(0)

densities = [('other narrow', dens_x_other, dens_h_other),
             ('narrow TATA', dens_x_tata, dens_h_tata),
             ('narrow TFs', dens_x_tf, dens_h_tf),
             ('broad', dens_x_broad, dens_h_broad)]
for name, dx, dh in densities:
    c = type_colors[name]
    ax3.fill_between(dx, 0, dh, color=c, alpha=0.45, lw=0, zorder=2)
    ax3.plot(dx, dh, color=c, lw=1.2, zorder=3)

fig.savefig('out.png', dpi=100)
